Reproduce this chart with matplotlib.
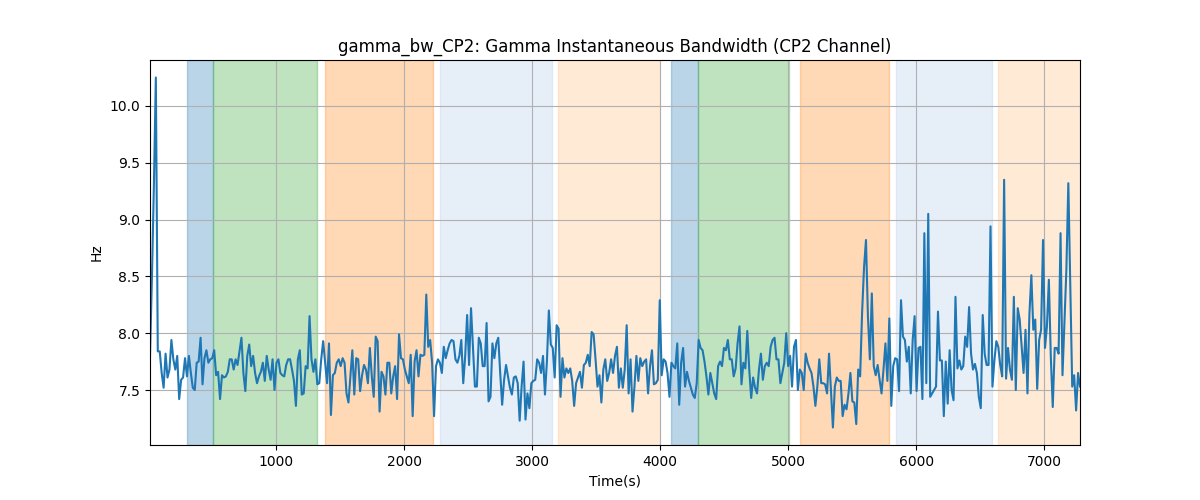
import numpy as np
import matplotlib
matplotlib.use('Agg')
from matplotlib import pyplot as plt

# gamma bandwidth (Hz), in time order
bw_part1 = [7.80, 8.50, 9.30, 10.25,
            7.84, 7.84, 7.65, 7.52, 7.82, 7.61, 7.68, 7.94, 7.77, 7.68,
            7.80, 7.42, 7.59, 7.61, 7.78, 7.62, 7.80, 7.65, 7.52, 7.50,
            7.74, 7.75, 7.96, 7.55, 7.78, 7.85, 7.74, 7.77, 7.78, 7.85,
            7.63, 7.66, 7.42, 7.63, 7.61, 7.62, 7.66, 7.77, 7.77, 7.68,
            7.77, 7.72, 7.84, 7.96, 7.65, 7.49, 7.80, 7.90, 7.71, 7.80,
            7.65, 7.56, 7.62, 7.66, 7.74, 7.58, 7.80, 7.68, 7.59, 7.77,
            7.50, 7.74, 7.77, 7.65, 7.63, 7.62, 7.72, 7.77, 7.77, 7.68,
            7.58, 7.36, 7.77]
bw_part2 = [7.85, 7.46, 7.47, 7.71, 7.69, 8.15, 7.77, 7.66, 7.77, 7.55,
            7.56, 7.77, 7.93, 7.74, 7.56, 7.91, 7.28, 7.63, 7.65, 7.74,
            7.77, 7.71, 7.78, 7.74, 7.47, 7.39, 7.62, 7.85, 7.46, 7.78,
            7.77, 7.49, 7.63, 7.72, 7.68, 7.56, 7.87, 7.62, 7.44, 7.97,
            7.93, 7.31, 7.66, 7.62, 7.46, 7.74, 7.74, 7.47, 7.62, 7.71,
            7.42, 7.99, 7.78, 7.77, 7.68, 7.62, 7.56, 7.81, 7.27, 7.75,
            7.85, 7.62, 7.81, 7.80, 7.81, 8.34, 7.88, 7.94, 7.74, 7.27,
            7.71, 7.77, 7.74, 7.65, 7.88, 7.78, 7.85, 7.91, 7.94, 7.93]
bw_part3 = [7.77, 7.74, 7.80, 7.94, 7.56, 7.80, 8.16, 7.72, 8.22, 7.88,
            7.53, 7.53, 7.96, 7.91, 7.71, 7.71, 8.09, 7.40, 7.44, 7.91,
            7.78, 7.91, 7.96, 7.65, 7.37, 7.59, 7.72, 7.62, 7.52, 7.46,
            7.61, 7.62, 7.56, 7.23, 7.53, 7.75, 7.24, 7.47, 7.34, 7.56,
            7.58, 7.59, 7.77, 7.74, 7.65, 7.80, 7.46, 7.75, 8.20, 7.90,
            7.87, 7.61, 8.07, 8.04, 7.44, 7.78, 7.61, 7.69, 7.65, 7.69,
            7.58, 7.36, 7.56, 7.61, 7.66, 7.52, 7.72, 7.74, 7.81, 7.71,
            8.01, 7.99, 7.77, 7.53, 7.63, 7.39, 7.68, 7.77, 7.58, 7.65,
            7.77]
bw_part4 = [7.65, 7.80, 7.88, 7.52, 7.69, 7.52, 7.68, 8.07, 7.47, 7.77,
            7.31, 7.53, 7.80, 7.58, 7.78, 7.71, 7.75, 7.77, 7.47, 7.71,
            7.85, 7.55, 7.56, 7.59, 8.29, 7.63, 7.77, 7.75, 7.65, 7.44,
            7.74, 7.71, 7.69, 7.91, 7.37, 7.74, 7.87, 7.53, 7.66, 7.58,
            7.52, 7.46, 7.43, 7.56, 7.94, 7.87, 7.85, 7.75, 7.62, 7.46,
            7.65, 7.56, 7.47, 7.42, 7.71, 7.75, 7.71, 7.87, 7.85, 7.94,
            7.77, 7.77, 7.62, 7.69, 7.91, 8.06, 7.55, 7.74, 7.69, 8.02,
            7.68, 7.43, 7.61, 7.52, 7.47, 7.68, 7.82, 7.59, 7.71, 7.74]
bw_part5 = [7.71, 7.88, 7.94, 7.96, 7.77, 7.77, 7.56, 7.65, 7.74, 8.00,
            7.71, 7.80, 7.53, 7.88, 7.94, 7.50, 7.68, 7.65, 7.50, 7.82,
            7.74, 7.69, 7.65, 7.53, 7.36, 7.53, 7.77, 7.56, 7.56, 7.55,
            7.47, 7.82, 7.49, 7.17, 7.53, 7.61, 7.58, 7.58, 7.27, 7.37,
            7.33, 7.47, 7.65, 7.40, 7.39, 7.20, 7.68, 7.62, 8.18, 8.58,
            8.82, 8.15, 7.77, 8.35, 7.71, 7.63, 7.72, 7.59, 7.47, 7.68,
            7.91, 7.58, 8.13, 7.36, 7.71, 7.78, 7.77, 7.49, 8.29, 7.97,
            7.94, 7.75, 7.88, 7.47, 7.94, 8.15, 7.49, 7.87, 7.88, 7.42]
bw_part6 = [8.88, 7.56, 9.05, 7.44, 7.47, 7.50, 7.53, 8.19, 7.76, 7.76,
            7.27, 7.75, 7.38, 7.85, 7.50, 7.41, 8.32, 7.69, 7.76, 7.68,
            7.71, 7.97, 7.88, 8.23, 7.82, 7.68, 7.73, 7.65, 7.44, 7.34,
            8.16, 7.82, 7.72, 7.72, 8.94, 7.53, 7.76, 7.93, 7.88, 7.72,
            7.62, 9.35, 7.60, 7.87, 7.68, 7.59, 8.32, 7.50, 8.22, 8.12,
            7.88, 7.65, 8.03, 7.47, 8.17, 8.51, 8.03, 8.12, 7.51, 7.94,
            8.03, 8.82, 7.87, 8.06, 8.47, 7.79, 7.35, 7.87, 7.87, 7.82,
            8.88, 7.63, 8.09, 8.56, 9.32, 8.44, 7.53, 7.63, 7.32, 7.65,
            7.53]

t_start, t_end = 16, 7280

# shaded task blocks: (start, end, colour, alpha)
span_starts = [305, 510, 1383, 2282, 3203, 4086, 4299, 5094, 5839, 6641]
span_ends = [510, 1318, 2224, 3154, 4000, 4299, 5010, 5792, 6591, 7300]
span_colors = ['#1f77b4', '#2ca02c', '#ff7f0e', '#aec7e8', '#ffbb78',
               '#1f77b4', '#2ca02c', '#ff7f0e', '#aec7e8', '#ffbb78']

bw = np.array(bw_part1 + bw_part2 + bw_part3 + bw_part4 + bw_part5 + bw_part6)
t = np.linspace(t_start, t_end, len(bw))

fig, ax = plt.subplots(figsize=(12, 5), dpi=100)
for s, e, c in zip(span_starts, span_ends, span_colors):
    ax.axvspan(s, e, color=c, alpha=0.3)
ax.plot(t, bw, color='#1f77b4', linewidth=1.5)
ax.set_xlim(t_start, t_end)
ax.grid(True)
ax.set_title('gamma_bw_CP2: Gamma Instantaneous Bandwidth (CP2 Channel)')
ax.set_xlabel('Time(s)')
ax.set_ylabel('Hz')
plt.savefig('out.png')
